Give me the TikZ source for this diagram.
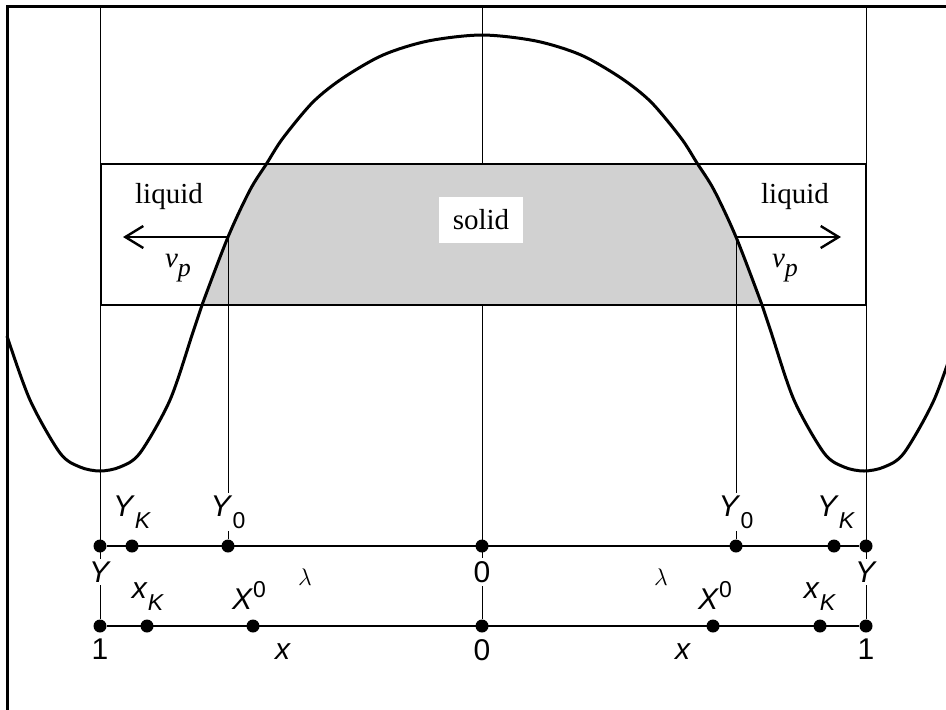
\documentclass[tikz,border=0pt]{standalone}
\usepackage{fontspec}
\setmainfont{Liberation Serif}
\newfontfamily\arialfont{Liberation Sans}
\usetikzlibrary{arrows.meta}
\tikzset{
    dot/.style = {circle, fill, inner sep=0pt, minimum size=6.5pt},
    axlab/.style = {font=\arialfont\fontsize{15}{15}\selectfont, inner sep=1.5pt, fill=white},
    phase/.style = {font=\fontsize{14.5}{15}\selectfont, inner sep=1pt},
    thinline/.style = {line width=0.5pt},
    axisline/.style = {line width=1pt},
    curveline/.style = {line width=1.5pt, line join=round},
    arrow/.style = {-{Straight Barb[length=9pt, width=11pt]}, line width=1.2pt},
    solidfill/.style = {fill=black!18}
}
\newcommand{\lsub}[2]{\textit{#1}\raisebox{-0.4em}{\fontsize{11.5}{11.5}\selectfont #2}}
\newcommand{\lsup}[2]{\textit{#1}\raisebox{0.4em}{\fontsize{11.5}{11.5}\selectfont #2}}
\newcommand{\vp}{\textit{v}\raisebox{-0.3em}{\fontsize{13}{13}\selectfont\textit{p}}}
\def\meltcurve{plot[smooth] coordinates {(7,336) (30,400) (60,453) (80,467) (100,471)
    (120,467) (140,453) (170,400) (193,332) (202,305) (228,237) (250,190) (267,163)
    (283,138) (313,102) (343,78) (383,55) (428,41) (482,35) (536,41) (581,55) (621,78)
    (651,102) (681,138) (697,163) (714,190) (736,237) (762,305) (771,332) (794,400)
    (824,453) (844,467) (864,471) (884,467) (904,453) (934,400) (957,336)}}

\begin{document}
\begin{tikzpicture}[x=0.5pt, y=-0.5pt]
    \useasboundingbox (0,0) rectangle (946,709);
    \clip (0,0) rectangle (946,709);
    \draw[line width=1.5pt] (7,6) rectangle (970,730);

    % points on the two axes
    \node[dot] (u1) at (100,546) {};
    \node[dot] (u2) at (132,546) {};
    \node[dot] (u3) at (228,546) {};
    \node[dot] (u4) at (482,546) {};
    \node[dot] (u5) at (736,546) {};
    \node[dot] (u6) at (834,546) {};
    \node[dot] (u7) at (866,546) {};
    \node[dot] (w1) at (100,626) {};
    \node[dot] (w2) at (147,626) {};
    \node[dot] (w3) at (253,626) {};
    \node[dot] (w4) at (482,626) {};
    \node[dot] (w5) at (713,626) {};
    \node[dot] (w6) at (820,626) {};
    \node[dot] (w7) at (866,626) {};
    \coordinate (topL) at (100,6);
    \coordinate (topC) at (482,6);
    \coordinate (topR) at (866,6);
    \coordinate (frontL) at (228,237);
    \coordinate (frontR) at (736,237);
    \coordinate (endL) at (123,237);
    \coordinate (endR) at (841,237);

    \draw[thinline] (topL) -- (w1);
    \draw[thinline] (topC) -- (w4);
    \draw[thinline] (topR) -- (w7);

    \begin{scope}
        \clip (101,164) rectangle (866,305);
        \fill[solidfill] \meltcurve -- cycle;
    \end{scope}
    \draw[line width=1.2pt] (101,164) rectangle (866,305);

    \draw[thinline] (frontL) -- (u3);
    \draw[thinline] (frontR) -- (u5);
    \draw[curveline] \meltcurve;

    \draw[axisline] (u1) -- (u7);
    \draw[axisline] (w1) -- (w7);
    \draw[arrow] (frontL) -- (endL);
    \draw[arrow] (frontR) -- (endR);

    \node[phase] (liqL) at (169,197) {liquid};
    \node[phase] (liqR) at (795,197) {liquid};
    \node[phase, fill=white, inner sep=0pt, minimum width=42pt, minimum height=23pt] (sol) at (481,220) {solid};
    \node[phase] (vL) at (178,268) {\vp};
    \node[phase] (vR) at (785,268) {\vp};

    \node[axlab] (ykL) at (132,512) {\lsub{Y}{\textit{K}}};
    \node[axlab] (y0L) at (228,512) {\lsub{Y}{0}};
    \node[axlab] (y0R) at (736,512) {\lsub{Y}{0}};
    \node[axlab] (ykR) at (836,512) {\lsub{Y}{\textit{K}}};
    \node[axlab] (yL) at (100,572) {\textit{Y}};
    \node[axlab] (yR) at (866,572) {\textit{Y}};
    \node[axlab] (zU) at (482,572) {0};
    \node[font=\fontsize{13}{13}\selectfont] (lamL) at (305,577) {$\lambda$};
    \node[font=\fontsize{13}{13}\selectfont] (lamR) at (661,577) {$\lambda$};
    \node[axlab] (xkL) at (148,597) {\lsub{x}{\textit{K}}};
    \node[axlab] (xkR) at (820,597) {\lsub{x}{\textit{K}}};
    \node[axlab] (x0L) at (249,595) {\lsup{X}{0}};
    \node[axlab] (x0R) at (715,595) {\lsup{X}{0}};
    \node[axlab] (oneL) at (100,649) {1};
    \node[axlab] (oneR) at (866,649) {1};
    \node[axlab] (zW) at (482,650) {0};
    \node[axlab] (xL) at (283,652) {\textit{x}};
    \node[axlab] (xR) at (683,652) {\textit{x}};
\end{tikzpicture}
\end{document}
